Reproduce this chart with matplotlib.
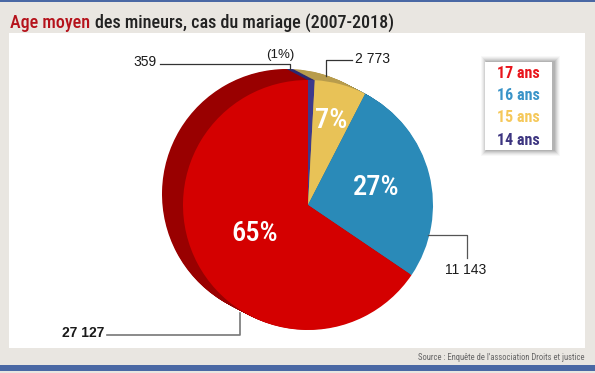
import numpy as np
import matplotlib
matplotlib.use("Agg")
import matplotlib.pyplot as plt
from matplotlib.patches import Rectangle

# ---- data ----
ages = ['17 ans', '16 ans', '15 ans', '14 ans']
counts = [27127, 11143, 2773, 359]
pct_labels = ['65%', '27%', '7%', '(1%)']
count_labels = ['27 127', '11 143', '2 773', '359']

front_colors = ['#d40000', '#2a8ab8', '#e8c257', '#3d3a8c']
side_colors = ['#990000', '#1d6890', '#b89c4c', '#2b2870']
legend_colors = ['#e8141b', '#3a94c8', '#f5c85a', '#3d3580']

W, H = 595, 373
fig = plt.figure(figsize=(W / 100, H / 100), dpi=100)
fig.patch.set_facecolor('#e9e6e1')
ax = fig.add_axes([0, 0, 1, 1])

def Y(y):
    return H - y

COND = ['Roboto Condensed', 'DejaVu Sans']
SANS = ['Liberation Sans', 'DejaVu Sans']

# pie (order clockwise from top: 14, 15, 16, 17)
vals = counts[::-1]
fc = front_colors[::-1]
sc = side_colors[::-1]
cx, cy, R = 308, Y(205), 125
N = 24
dx, dy = -21, 11
for i in range(N, 0, -1):
    f = i / N
    ax.pie(vals, colors=sc, startangle=90, counterclock=False,
           center=(cx + dx * f, cy + dy * f), radius=R,
           wedgeprops=dict(linewidth=0, zorder=2))
wedges, _ = ax.pie(vals, colors=fc, startangle=90, counterclock=False,
                   center=(cx, cy), radius=R,
                   wedgeprops=dict(linewidth=0, zorder=3))

ax.set_xlim(0, W)
ax.set_ylim(0, H)
ax.set_aspect('auto')
ax.axis('off')

# frame
ax.add_patch(Rectangle((0, Y(2)), W, 2, color='#4a68a4', lw=0, zorder=1))
ax.add_patch(Rectangle((0, Y(371)), W, 6, color='#4a68a4', lw=0, zorder=1))
ax.add_patch(Rectangle((9, Y(348)), 576, 315, color='white', lw=0, zorder=1))

# title
t1 = ax.text(10, Y(28), 'Age moyen', color='#b5121b', fontsize=13, fontweight='medium',
             family=COND, va='baseline', ha='left', zorder=5)
ax.annotate('des mineurs, cas du mariage (2007-2018)', xy=(1, 0), xycoords=t1,
            xytext=(3.5, 0), textcoords='offset points', color='#222222',
            fontsize=13, fontweight='medium', family=COND, va='bottom', ha='left', zorder=5)

# percent labels inside
rfrac = {'65%': 0.48, '27%': 0.56, '7%': 0.70}
for w, lab in zip(wedges, pct_labels[::-1]):
    if lab not in rfrac:
        continue
    mid = np.deg2rad((w.theta1 + w.theta2) / 2)
    r = rfrac[lab] * R
    ax.text(cx + r * np.cos(mid), cy + r * np.sin(mid), lab, color='white',
            fontsize=20.5, fontweight='medium', family=COND, ha='center', va='center', zorder=6)

# callouts
lc = '#333333'
lw = 0.9
ax.plot([160, 290, 290], [Y(64), Y(64), Y(69)], color=lc, lw=lw, zorder=6)
ax.text(157, Y(62), count_labels[3], fontsize=10, family=SANS, color='#1a1a1a',
        ha='right', va='center', zorder=6)
ax.text(280, Y(55), pct_labels[3], fontsize=9.5, family=SANS, color='#1a1a1a',
        ha='center', va='center', zorder=6)

ax.plot([326, 326, 352], [Y(76), Y(60), Y(60)], color=lc, lw=lw, zorder=6)
ax.text(355, Y(59), count_labels[2], fontsize=10, family=SANS, color='#1a1a1a',
        ha='left', va='center', zorder=6)

ax.plot([428, 467, 467], [Y(235), Y(235), Y(258)], color='#555555', lw=lw, zorder=6)
ax.text(466, Y(270), count_labels[1], fontsize=10, family=SANS, color='#1a1a1a',
        ha='center', va='center', zorder=6)

ax.plot([107, 240, 240], [Y(335), Y(335), Y(313)], color='#777777', lw=1.2, zorder=6)
ax.text(104, Y(333), count_labels[0], fontsize=10, family=SANS, color='#1a1a1a',
        ha='right', va='center', fontweight='bold', zorder=6)

# legend box with soft shadow
bx0, by0, bx1, by1 = 485, 62, 552, 150
for k, a in zip(range(6, 0, -1), [0.04, 0.06, 0.08, 0.10, 0.12, 0.14]):
    ax.add_patch(Rectangle((bx0 - k + 2, Y(by1 + k)), (bx1 - bx0) + 2 * k, (by1 - by0) + 2 * k,
                           color='#555555', alpha=a, lw=0, zorder=4))
ax.add_patch(Rectangle((bx0, Y(by1)), bx1 - bx0, by1 - by0, color='white', lw=0, zorder=5))
for i, (lab, col) in enumerate(zip(ages, legend_colors)):
    ax.text((bx0 + bx1) / 2, Y(73 + i * 22.5), lab, color=col, fontsize=11.5,
            fontweight='bold', family=COND, ha='center', va='center', zorder=6)

# source
ax.text(584, Y(357), "Source : Enquête de l'association Droits et justice", fontsize=6.2,
        family=COND, color='#666666', ha='right', va='center', zorder=5)

fig.savefig('out.png', dpi=100, facecolor=fig.get_facecolor())
